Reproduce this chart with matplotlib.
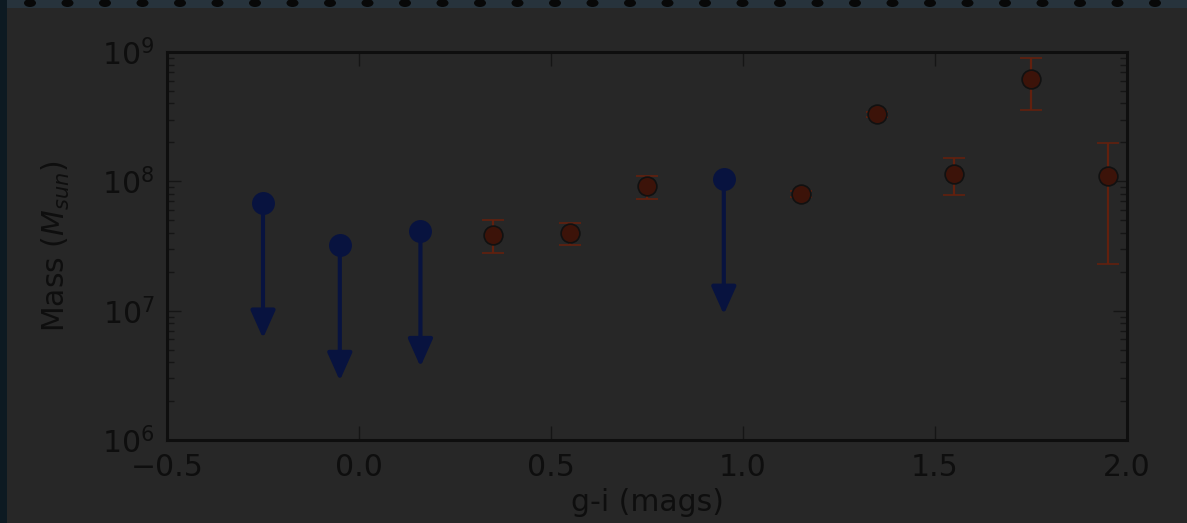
import numpy as np
import matplotlib
matplotlib.use("Agg")
import matplotlib.pyplot as plt
from matplotlib.patches import Rectangle, Ellipse

# Upper limits (blue): colour and mass upper bound
limit_color = [-0.25, -0.05, 0.16, 0.95]
limit_mass = [6.8e7, 3.2e7, 4.1e7, 1.04e8]

# Detections (red): colour, mass and the low/high ends of the error bar
det_color = [0.35, 0.55, 0.75, 1.15, 1.35, 1.55, 1.75, 1.95]
det_mass = [3.85e7, 4.0e7, 9.2e7, 8.0e7, 3.3e8, 1.14e8, 6.2e8, 1.1e8]
det_low = [2.8e7, 3.2e7, 7.3e7, 7.6e7, 3.15e8, 7.8e7, 3.55e8, 2.3e7]
det_high = [5.0e7, 4.8e7, 1.1e8, 8.4e7, 3.45e8, 1.51e8, 9.0e8, 1.98e8]

x_ticks = [-0.5, 0.0, 0.5, 1.0, 1.5, 2.0]

BG = "#272727"
INK = "#0e0e0e"
BLUE = "#08133f"
RED_FILL = "#3c1309"
RED_BAR = "#62200e"
FS = 21.5

W, H = 1187, 523
fig = plt.figure(figsize=(W / 100, H / 100), dpi=100, facecolor=BG)

# slide frame strips along the top and left edges
fig.patches.append(Rectangle((0, 1 - 8 / H), 1, 8 / H, transform=fig.transFigure,
                             facecolor="#27333c", edgecolor="none", zorder=0))
for cx in np.arange(30, W, 37.5):
    fig.patches.append(Ellipse((cx / W, 1 - 3 / H), 12 / W, 8 / H,
                               transform=fig.transFigure, facecolor="#080808",
                               edgecolor="none", zorder=1))
fig.patches.append(Rectangle((0, 0), 7 / W, 1, transform=fig.transFigure,
                             facecolor="#0d1a22", edgecolor="none", zorder=0))

ax = fig.add_axes([167 / W, 83 / H, 960 / W, 388 / H])
ax.set_facecolor(BG)
ax.set_yscale("log")
ax.set_xlim(-0.5, 2.0)
ax.set_ylim(1e6, 1e9)

# detections with asymmetric error bars
m = np.array(det_mass)
yerr = [m - np.array(det_low), np.array(det_high) - m]
ax.errorbar(det_color, det_mass, yerr=yerr, fmt="o", ms=13.5, mfc=RED_FILL,
            mec="#111111", mew=1.2, ecolor=RED_BAR, elinewidth=1.6,
            capsize=8, capthick=1.6, zorder=3)

# upper limits: filled circle with an arrow pointing down
ax.plot(limit_color, limit_mass, "o", ms=15.5, color=BLUE, mec=BLUE, zorder=4)
for xv, yv in zip(limit_color, limit_mass):
    ax.annotate("", xy=(xv, yv * 0.09), xytext=(xv, yv),
                arrowprops=dict(arrowstyle="-|>,head_length=0.85,head_width=0.38",
                                color=BLUE, lw=3.0, shrinkA=0, shrinkB=0,
                                mutation_scale=20),
                zorder=4)

ax.set_xticks(x_ticks)
ax.set_xticklabels([f"{t:.1f}".replace("-", "\u2212") for t in x_ticks])

for side in ax.spines.values():
    side.set_color(INK)
    side.set_linewidth(2.2)

ax.tick_params(which="both", direction="in", top=True, right=True,
               colors="#151515", labelcolor=INK, labelsize=FS)
ax.tick_params(which="major", length=10, width=1.0, pad=9)
ax.tick_params(which="minor", length=5, width=1.0)

ax.set_xlabel("g-i (mags)", fontsize=FS, color=INK, labelpad=5)
ax.set_ylabel("Mass ($M_{sun}$)", fontsize=FS, color=INK, labelpad=22)

fig.savefig("out.png", dpi=100, facecolor=BG)
